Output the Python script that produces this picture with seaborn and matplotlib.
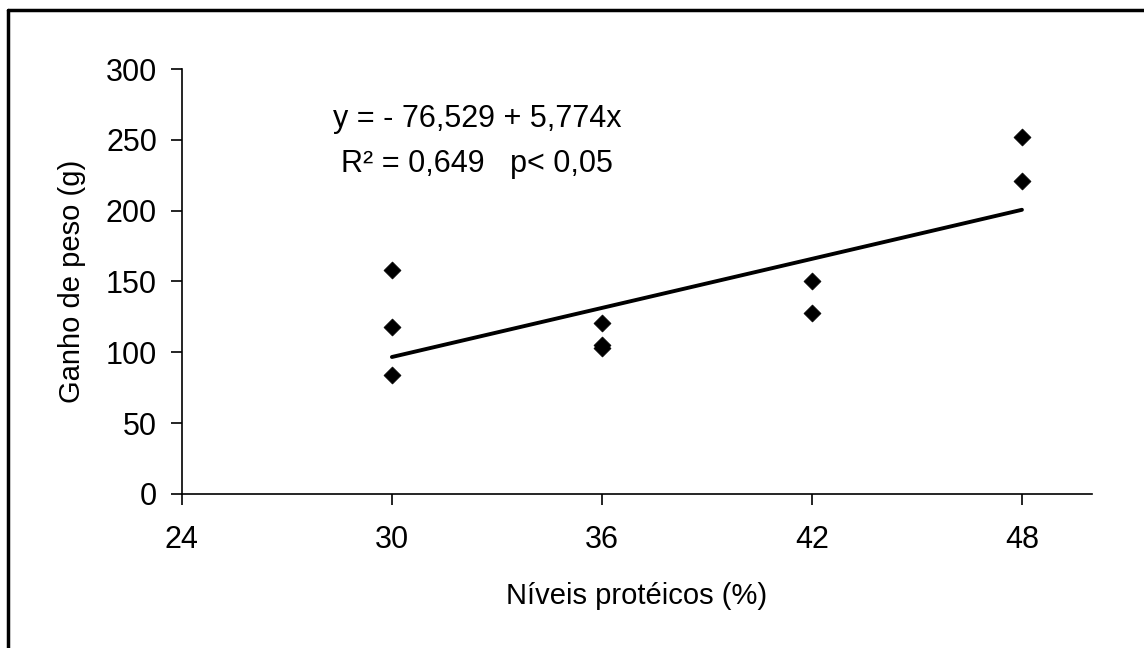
import matplotlib
matplotlib.use("Agg")
import matplotlib.pyplot as plt
import seaborn as sns
import pandas as pd
from matplotlib.lines import Line2D

# data
protein_levels = [30, 30, 30, 36, 36, 36, 42, 42, 48, 48]
weight_gain = [158, 118, 84, 121, 105, 103, 150, 128, 252, 221]
intercept = -76.529
slope = 5.774
fit_range = [30, 48]
x_ticks = [24, 30, 36, 42, 48]
y_ticks = [0, 50, 100, 150, 200, 250, 300]

sns.set_theme(style="white")
plt.rcParams["font.family"] = ["Liberation Sans", "DejaVu Sans"]
plt.rcParams["text.color"] = "black"
plt.rcParams["axes.labelcolor"] = "black"
plt.rcParams["xtick.color"] = "black"
plt.rcParams["ytick.color"] = "black"

df = pd.DataFrame({"x": protein_levels, "y": weight_gain})
fit = pd.DataFrame({"x": fit_range})
fit["y"] = intercept + slope * fit["x"]

fig = plt.figure(figsize=(11.44, 6.48), dpi=100)
ax = fig.add_axes([0.159, 0.2377, 0.7955, 0.6558])

sns.lineplot(data=fit, x="x", y="y", ax=ax, color="black", linewidth=2.8)
sns.scatterplot(data=df, x="x", y="y", ax=ax, marker="D", s=75,
                color="black", edgecolor="black", linewidth=0.5, zorder=3)

ax.set_xlim(24, 50)
ax.set_ylim(0, 300)
ax.set_xticks(x_ticks)
ax.set_yticks(y_ticks)
ax.tick_params(axis="both", labelsize=22, length=8, width=1.2,
               direction="out", left=True, bottom=True)
ax.tick_params(axis="x", pad=14)
ax.tick_params(axis="y", pad=10)
for s in ["top", "right"]:
    ax.spines[s].set_visible(False)
for s in ["left", "bottom"]:
    ax.spines[s].set_color("black")
    ax.spines[s].set_linewidth(1.2)

ax.set_xlabel("Níveis protéicos (%)", fontsize=21, labelpad=20)
ax.set_ylabel("Ganho de peso (g)", fontsize=21, labelpad=14)

ax.text(0.166, 0.882, "y = - 76,529 + 5,774x", transform=ax.transAxes,
        fontsize=22, va="center", ha="left")
ax.text(0.175, 0.776, "R² = 0,649   p< 0,05", transform=ax.transAxes,
        fontsize=22, va="center", ha="left")

# outer frame (left and top edges)
fig.add_artist(Line2D([8 / 1144, 8 / 1144], [0, 1 - 10 / 648],
                      transform=fig.transFigure, color="black", linewidth=2.5))
fig.add_artist(Line2D([8 / 1144, 1], [1 - 10 / 648, 1 - 10 / 648],
                      transform=fig.transFigure, color="black", linewidth=2.5))

fig.savefig("out.png", dpi=100)
plt.close(fig)
